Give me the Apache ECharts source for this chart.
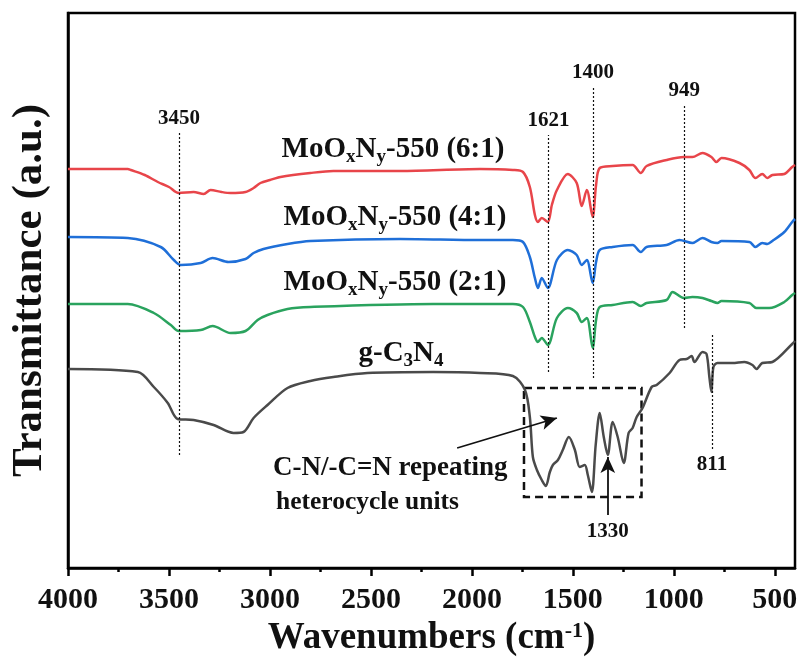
<!DOCTYPE html>
<html>
<head>
<meta charset="utf-8">
<script src="https://cdn.jsdelivr.net/npm/echarts@6/dist/echarts.min.js"></script>
<style>
  html, body { margin: 0; padding: 0; background: #fff; }
  #chart { width: 799px; height: 658px; }
</style>
</head>
<body>
<div id="chart"></div>
<script>
// [wavenumber (cm-1), transmittance (a.u., offset)]
var red61 = [[4000,399],[3704,399],[3689,398],[3620,393],[3555,386],[3500,381],[3452,375],[3378,376],[3328,374],[3294,378],[3240,376],[3195,375],[3121,376],[3081,380],[3047,385],[3000,388],[2948,391],[2800,395],[2686,397],[2355,397],[1960,399],[1797,398],[1747,396],[1713,381],[1688,353],[1673,346],[1654,350],[1624,346],[1604,363],[1579,378],[1525,394],[1481,385],[1456,362],[1431,378],[1402,351],[1385,383],[1367,400],[1303,402],[1204,403],[1164,395],[1135,402],[1036,408],[951,411],[908,411],[858,415],[814,411],[789,406],[764,410],[675,405],[626,398],[596,390],[562,394],[537,390],[512,393],[453,394],[414,401],[400,403]];
var blue41 = [[4000,331],[3704,330],[3541,321],[3476,308],[3442,303],[3343,305],[3284,310],[3205,306],[3121,309],[3081,315],[3032,319],[2913,324],[2800,327],[2355,329],[1960,328],[1797,328],[1747,326],[1713,311],[1688,290],[1673,280],[1654,290],[1624,280],[1579,308],[1525,318],[1481,313],[1456,303],[1431,308],[1402,285],[1385,306],[1367,318],[1303,321],[1204,323],[1164,316],[1135,321],[1036,323],[972,328],[908,325],[858,330],[814,326],[784,325],[764,327],[626,326],[596,321],[562,325],[537,324],[512,327],[453,336],[414,346],[400,349]];
var green21 = [[4000,264],[3704,264],[3575,255],[3491,243],[3452,237],[3343,238],[3284,242],[3195,235],[3121,237],[3061,248],[3012,253],[2913,259],[2800,261],[2192,264],[1797,264],[1747,261],[1713,246],[1688,231],[1673,226],[1654,230],[1624,223],[1579,250],[1525,260],[1481,255],[1456,246],[1431,250],[1402,220],[1385,248],[1367,261],[1303,263],[1204,266],[1164,262],[1135,265],[1036,268],[1006,276],[951,270],[908,271],[858,270],[814,267],[784,265],[764,267],[626,265],[591,260],[527,260],[453,266],[414,273],[400,275]];
var gcn = [[4000,199],[3654,196],[3575,181],[3506,165],[3457,149],[3378,148],[3279,143],[3180,135],[3131,136],[3081,150],[3012,163],[2913,180],[2800,187],[2686,191],[2518,195],[2192,196],[1960,195],[1797,192],[1737,178],[1713,151],[1698,111],[1678,98],[1654,88],[1634,82],[1614,96],[1599,103],[1574,108],[1550,118],[1520,131],[1490,118],[1466,101],[1441,103],[1426,93],[1406,76],[1387,123],[1367,155],[1347,131],[1327,113],[1303,146],[1278,131],[1248,105],[1224,135],[1204,140],[1184,151],[1155,160],[1110,181],[1085,183],[1021,195],[972,208],[937,209],[912,212],[898,206],[858,216],[838,214],[824,191],[814,176],[804,201],[784,205],[710,205],[651,206],[611,203],[591,199],[562,205],[512,206],[414,224],[400,227]];

var majorTicks = [4000,3500,3000,2500,2000,1500,1000,500];
var minorTicks = [3750,3250,2750,2250,1750,1250,750];

// marked peaks: [wavenumber, top, bottom, label]
var peakLines = [[3450,435,113,'3450'],[1621,433,196,'1621'],[1400,481,190,'1400'],[949,463,240,'949']];
var peak811 = [811,233,118,'811'];

var serif = '"Liberation Serif", "DejaVu Serif", serif';

var chart = echarts.init(document.getElementById('chart'));

function dotted(p, labelPos){
    return [
        {coord:[p[0], labelPos === 'end' ? p[2] : p[1]]},
        {coord:[p[0], labelPos === 'end' ? p[1] : p[2]], label:{formatter:p[3]}}
    ];
}

function curve(name, data, color){
    return {name:name, type:'line', data:data, showSymbol:false, smooth:0.3,
        lineStyle:{color:color, width:2.5}, itemStyle:{color:color}};
}

function label(text, x, y){
    return {type:'text', x:x, y:y, style:{text:text, align:'center', verticalAlign:'middle', font:'bold 29px '+serif, fill:'#111',
        rich:{s:{font:'bold 19px '+serif, fill:'#111', padding:[15,0,0,0]}}}};
}

var gray = curve('g-C3N4', gcn, '#4a4a4a');
gray.z = 3;
gray.markLine = {
    silent:true, symbol:'none', animation:false,
    lineStyle:{color:'#111', width:1.2, type:[2,2]},
    label:{show:true, position:'end', distance:4, fontFamily:serif, fontWeight:'bold', fontSize:21, color:'#111'},
    data: peakLines.map(function(p){ return dotted(p,'end'); })
        .concat([dotted(peak811,'start')])
        .concat([
            [{coord:[2073,120], symbol:'none'},{coord:[1579,150], symbol:'arrow', symbolSize:[11,16], label:{show:false}, lineStyle:{type:'solid', width:1.8, color:'#111'}}],
            [{coord:[1327,53], symbol:'none'},{coord:[1327,111], symbol:'arrow', symbolSize:[11,16], label:{show:true, position:'start', distance:6, formatter:'1330', fontSize:21}, lineStyle:{type:'solid', width:1.8, color:'#111'}}]
        ])
};
gray.markArea = {
    silent:true,
    itemStyle:{color:'rgba(0,0,0,0)', borderColor:'#111', borderWidth:2.5, borderType:[8,5]},
    data:[[{coord:[1742,180]},{coord:[1160,71]}]]
};

chart.setOption({
    animation:false,
    grid:{left:68, right:4, top:13, bottom:90, show:true, borderColor:'#000', borderWidth:2.5, outerBoundsMode:'none', containLabel:false},
    xAxis:[{
        type:'value', inverse:true, min:400, max:4000,
        name:'Wavenumbers (cm{sup|-1})',
        nameLocation:'middle', nameGap:52,
        nameTextStyle:{fontFamily:serif, fontWeight:'bold', fontSize:37, color:'#111',
            rich:{sup:{fontFamily:serif, fontWeight:'bold', fontSize:22, color:'#111', padding:[0,0,15,0]}}},
        axisLine:{lineStyle:{color:'#000', width:2.5}},
        axisTick:{customValues:majorTicks, length:8, lineStyle:{color:'#000', width:2.5}},
        axisLabel:{customValues:majorTicks, margin:17, fontFamily:serif, fontWeight:'bold', fontSize:30, color:'#111',
            formatter:function(v){ return String(v); }},
        splitLine:{show:false}
    },{
        type:'value', inverse:true, min:400, max:4000, position:'bottom',
        axisLine:{show:false},
        axisTick:{customValues:minorTicks, length:4, lineStyle:{color:'#000', width:2.5}},
        axisLabel:{show:false},
        splitLine:{show:false}
    }],
    yAxis:{
        type:'value', min:0, max:555,
        name:'Transmittance (a.u.)', nameLocation:'middle', nameGap:17,
        nameTextStyle:{fontFamily:serif, fontWeight:'bold', fontSize:43, color:'#111'},
        axisLine:{show:true, lineStyle:{color:'#000', width:2.5}},
        axisTick:{show:false}, axisLabel:{show:false}, splitLine:{show:false}
    },
    series:[
        curve('6:1', red61, '#e8454a'),
        curve('4:1', blue41, '#1f6fd8'),
        curve('2:1', green21, '#2aa35e'),
        gray
    ],
    graphic:[
        label('MoO{s|x}N{s|y}-550 (6:1)', 393, 150),
        label('MoO{s|x}N{s|y}-550 (4:1)', 395, 218),
        label('MoO{s|x}N{s|y}-550 (2:1)', 395, 283),
        label('g-C{s|3}N{s|4}', 401, 354),
        {type:'text', x:273, y:468, style:{text:'C-N/-C=N repeating', align:'left', verticalAlign:'middle', font:'bold 27px '+serif, fill:'#111'}},
        {type:'text', x:276, y:502, style:{text:'heterocycle units', align:'left', verticalAlign:'middle', font:'bold 25.5px '+serif, fill:'#111'}}
    ]
});
</script>
</body>
</html>
